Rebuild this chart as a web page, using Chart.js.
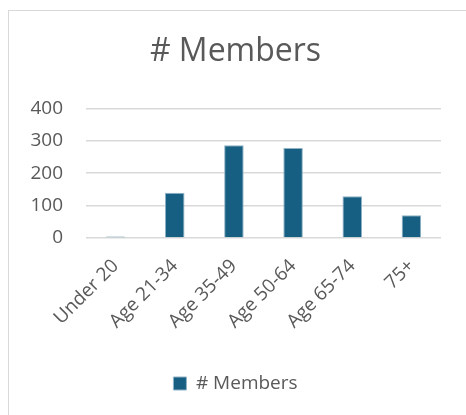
<!DOCTYPE html>
<html>
<head>
<meta charset="utf-8">
<script src="https://cdn.jsdelivr.net/npm/chart.js@4"></script>
<style>
    html, body { margin: 0; padding: 0; background: #fff; }
    #cadre {
        position: absolute; left: 0; top: 0;
        width: 466px; height: 415px;
    }
    #bord {
        position: absolute; left: 8px; top: 10px;
        width: 470px; height: 420px;
        border: 1px solid #d9d9d9;
        box-sizing: border-box;
        pointer-events: none;
    }
</style>
</head>
<body>
<div id="cadre"><canvas id="graphique" width="466" height="415"></canvas></div>
<div id="bord"></div>
<script>
// Données
const CATEGORIES = ['Under 20', 'Age 21-34', 'Age 35-49', 'Age 50-64', 'Age 65-74', '75+'];
const MEMBRES    = [5, 140, 286, 278, 129, 70];
const TICKS_Y    = [0, 100, 200, 300, 400];

const GRIS   = '#595959';
const BLEU   = '#175f82';
const POLICE = '"Open Sans", "Noto Sans", sans-serif';

new Chart(document.getElementById('graphique'), {
    type: 'bar',
    data: {
        labels: CATEGORIES,
        datasets: [{
            label:           '# Members',
            data:            MEMBRES,
            backgroundColor: BLEU,
            borderColor:     '#8fb2c6',
            borderWidth:     1,
            barPercentage:   0.33,
            categoryPercentage: 1,
        }],
    },
    options: {
        responsive: false,
        animation:  false,
        layout: { padding: { left: 30, right: 25, top: 10, bottom: 12 } },
        plugins: {
            title: {
                display: true,
                text:    '# Members',
                color:   GRIS,
                font:    { family: POLICE, size: 32, weight: 'normal' },
                padding: { top: 23, bottom: 37 },
            },
            legend: {
                position: 'bottom',
                labels: {
                    color:     GRIS,
                    font:      { family: POLICE, size: 19 },
                    boxWidth:  13,
                    boxHeight: 13,
                    padding:   10,
                },
            },
            tooltip: { enabled: false },
        },
        scales: {
            x: {
                afterFit: axe => { axe.height = 126; },
                grid:   { display: false },
                border: { display: false },
                ticks: {
                    color:       GRIS,
                    font:        { family: POLICE, size: 19 },
                    minRotation: 45,
                    maxRotation: 45,
                    autoSkip:    false,
                    padding:     9,
                },
            },
            y: {
                min: 0,
                max: 400,
                afterBuildTicks: axe => { axe.ticks = TICKS_Y.map(v => ({ value: v })); },
                afterFit: axe => { axe.width = 56; },
                grid:   { color: '#d9d9d9', lineWidth: 1.5, drawTicks: false },
                border: { display: false },
                ticks: {
                    color:   GRIS,
                    font:    { family: POLICE, size: 19 },
                    padding: 23,
                },
            },
        },
    },
});
</script>
</body>
</html>
